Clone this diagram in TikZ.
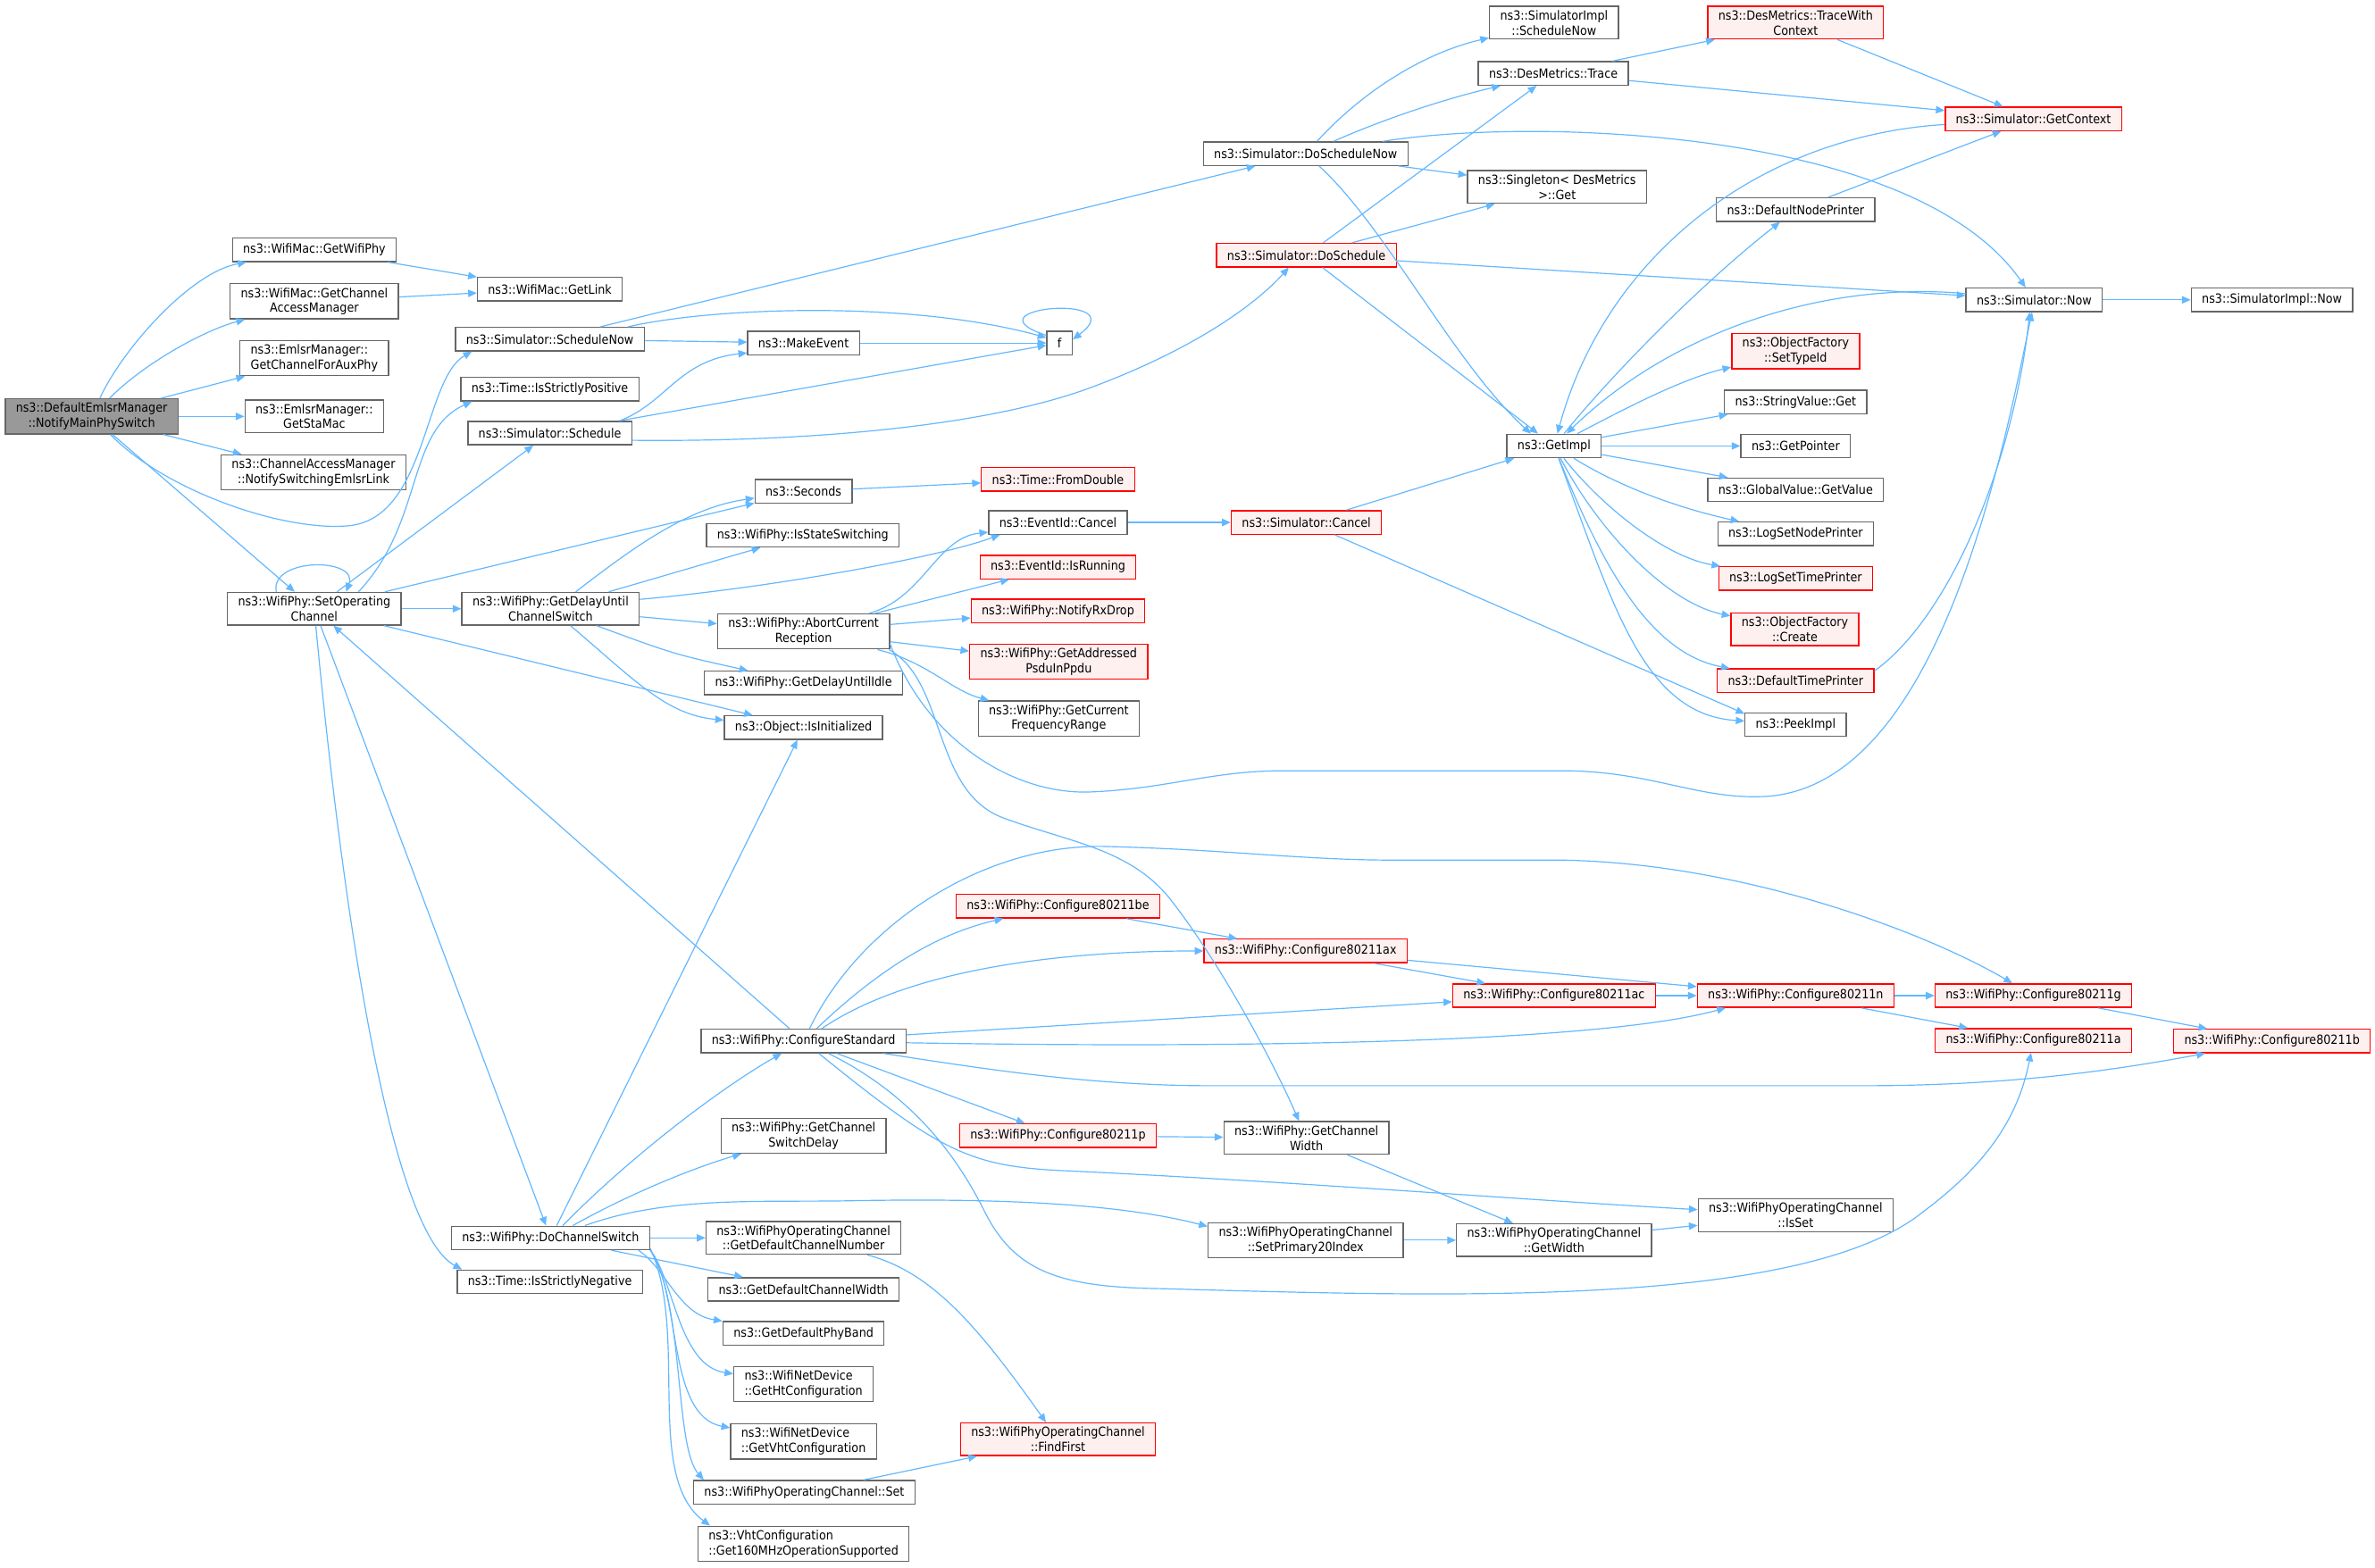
\documentclass[tikz,border=0pt]{standalone}
\usepackage{fontspec}
\setmainfont{DejaVu Sans Condensed}
\usepackage{tikz}
\usetikzlibrary{arrows.meta}

\definecolor{edgeblue}{HTML}{63B8FF}
\definecolor{boxgray}{HTML}{666666}
\definecolor{rootfill}{HTML}{999999}
\definecolor{hotfill}{HTML}{FFF0F0}

\begin{document}
\begin{tikzpicture}[
  x=0.04cm, y=-0.04cm,
  box/.style = {draw=boxgray, fill=white, line width=0.9pt, minimum height=0.62cm,
                inner xsep=0.28cm, inner ysep=3pt, align=center,
                font=\fontsize{9.5}{11.2}\selectfont},
  hot/.style = {box, draw=red, fill=hotfill},
  root/.style = {box, fill=rootfill},
  call/.style = {edgeblue, line width=0.8pt, -{Triangle[length=6.5pt,width=5.5pt]}}
]

  \fill[white] (0,0) rectangle (1568,1035);
  \useasboundingbox (0,0) rectangle (1568,1035);

  % caller
  \node[root] (notify) at (60.5,275) {ns3::DefaultEmlsrManager\\::NotifyMainPhySwitch};

  % first level
  \node[box] (wifiphy) at (207.5,165) {ns3::WifiMac::GetWifiPhy};
  \node[box] (chanmgr) at (207.5,199) {ns3::WifiMac::GetChannel\\AccessManager};
  \node[box, align=left] (auxphy) at (207.5,236.5) {ns3::EmlsrManager::\\GetChannelForAuxPhy};
  \node[box] (stamac) at (207.5,275) {ns3::EmlsrManager::\\GetStaMac};
  \node[box] (switchlink) at (207,312) {ns3::ChannelAccessManager\\::NotifySwitchingEmlsrLink};
  \node[box] (setop) at (207.5,402) {ns3::WifiPhy::SetOperating\\Channel};

  % second level
  \node[box] (getlink) at (363,191) {ns3::WifiMac::GetLink};
  \node[box] (schednow) at (363,224) {ns3::Simulator::ScheduleNow};
  \node[box] (strictpos) at (363,257) {ns3::Time::IsStrictlyPositive};
  \node[box] (sched) at (363,286) {ns3::Simulator::Schedule};
  \node[box] (delaysw) at (363.5,402) {ns3::WifiPhy::GetDelayUntil\\ChannelSwitch};
  \node[box] (dochsw) at (363.5,817.5) {ns3::WifiPhy::DoChannelSwitch};
  \node[box] (strictneg) at (363,846.5) {ns3::Time::IsStrictlyNegative};

  % third level
  \node[box] (makeevent) at (530.5,226.5) {ns3::MakeEvent};
  \node[box] (seconds) at (530.5,324.5) {ns3::Seconds};
  \node[box] (isswitch) at (530,353.5) {ns3::WifiPhy::IsStateSwitching};
  \node[box] (abort) at (530.5,417) {ns3::WifiPhy::AbortCurrent\\Reception};
  \node[box] (delayidle) at (530.5,451) {ns3::WifiPhy::GetDelayUntilIdle};
  \node[box] (isinit) at (530.5,480.5) {ns3::Object::IsInitialized};
  \node[box] (confstd) at (530.5,687.5) {ns3::WifiPhy::ConfigureStandard};
  \node[box] (swdelay) at (530.5,750) {ns3::WifiPhy::GetChannel\\SwitchDelay};
  \node[box] (defchnum) at (530.5,817.5) {ns3::WifiPhyOperatingChannel\\::GetDefaultChannelNumber};
  \node[box] (defchwidth) at (530.5,851.5) {ns3::GetDefaultChannelWidth};
  \node[box] (defband) at (530.5,880.5) {ns3::GetDefaultPhyBand};
  \node[box, align=left] (htconf) at (530.5,914) {ns3::WifiNetDevice\\::GetHtConfiguration};
  \node[box, align=left] (vhtconf) at (530.5,952) {ns3::WifiNetDevice\\::GetVhtConfiguration};
  \node[box] (opset) at (531,985.5) {ns3::WifiPhyOperatingChannel::Set};
  \node[box, align=left] (get160) at (530.5,1019.5) {ns3::VhtConfiguration\\::Get160MHzOperationSupported};

  % fourth level
  \node[box] (f) at (699.5,226.5) {f};
  \node[hot] (fromdouble) at (698.5,316.5) {ns3::Time::FromDouble};
  \node[box] (evcancel) at (698.5,345) {ns3::EventId::Cancel};
  \node[hot] (isrunning) at (698.5,374.5) {ns3::EventId::IsRunning};
  \node[hot] (rxdrop) at (698.5,403.5) {ns3::WifiPhy::NotifyRxDrop};
  \node[hot] (psdu) at (699,437) {ns3::WifiPhy::GetAddressed\\PsduInPpdu};
  \node[box] (freqrange) at (699,474.5) {ns3::WifiPhy::GetCurrent\\FrequencyRange};
  \node[hot] (cbe) at (698.5,598.5) {ns3::WifiPhy::Configure80211be};
  \node[hot] (cp) at (698.5,750) {ns3::WifiPhy::Configure80211p};
  \node[hot] (findfirst) at (698.5,950.5) {ns3::WifiPhyOperatingChannel\\::FindFirst};

  % simulator core
  \node[box] (doschednow) at (862,101.5) {ns3::Simulator::DoScheduleNow};
  \node[hot] (dosched) at (862.5,168.5) {ns3::Simulator::DoSchedule};
  \node[hot] (simcancel) at (862.5,345) {ns3::Simulator::Cancel};
  \node[hot] (cax) at (862,628) {ns3::WifiPhy::Configure80211ax};
  \node[box] (chwidth) at (862.5,751.5) {ns3::WifiPhy::GetChannel\\Width};
  \node[box] (setprim) at (862,819) {ns3::WifiPhyOperatingChannel\\::SetPrimary20Index};

  \node[box] (implschednow) at (1026,15) {ns3::SimulatorImpl\\::ScheduleNow};
  \node[box] (trace) at (1025.5,48.5) {ns3::DesMetrics::Trace};
  \node[box] (singleton) at (1028,123.5) {ns3::Singleton< DesMetrics\\>::Get};
  \node[box] (getimpl) at (1026,294.5) {ns3::GetImpl};
  \node[hot] (cac) at (1026,657.5) {ns3::WifiPhy::Configure80211ac};
  \node[box] (getwidth) at (1026,819) {ns3::WifiPhyOperatingChannel\\::GetWidth};

  \node[hot] (tracectx) at (1185.5,15) {ns3::DesMetrics::TraceWith\\Context};
  \node[box] (nodeprinter) at (1185.5,138.5) {ns3::DefaultNodePrinter};
  \node[hot] (settypeid) at (1185.5,232) {ns3::ObjectFactory\\::SetTypeId};
  \node[box] (strget) at (1185.5,265.5) {ns3::StringValue::Get};
  \node[box] (getptr) at (1185.5,294.5) {ns3::GetPointer};
  \node[box] (getvalue) at (1185.5,323.5) {ns3::GlobalValue::GetValue};
  \node[box] (lognode) at (1185.5,352.5) {ns3::LogSetNodePrinter};
  \node[hot] (logtime) at (1185.5,382) {ns3::LogSetTimePrinter};
  \node[hot] (create) at (1185,415.5) {ns3::ObjectFactory\\::Create};
  \node[hot] (timeprinter) at (1185.5,449.5) {ns3::DefaultTimePrinter};
  \node[box] (peekimpl) at (1185.5,478.5) {ns3::PeekImpl};
  \node[hot] (cn) at (1185.5,657.5) {ns3::WifiPhy::Configure80211n};
  \node[box] (isset) at (1185.5,802.5) {ns3::WifiPhyOperatingChannel\\::IsSet};

  \node[hot] (getctx) at (1342.5,78.5) {ns3::Simulator::GetContext};
  \node[box] (simnow) at (1343,198) {ns3::Simulator::Now};
  \node[hot] (cg) at (1342.5,657.5) {ns3::WifiPhy::Configure80211g};
  \node[hot] (ca) at (1342.5,687) {ns3::WifiPhy::Configure80211a};
  \node[box] (implnow) at (1500,198) {ns3::SimulatorImpl::Now};
  \node[hot] (cb) at (1500,687.5) {ns3::WifiPhy::Configure80211b};

  % calls of the caller
  \draw[call] (notify) .. controls (80,232) and (125,180) .. (wifiphy);
  \draw[call] (notify) .. controls (95,240) and (135,218) .. (chanmgr);
  \draw[call] (notify) -- (auxphy);
  \draw[call] (notify) -- (stamac);
  \draw[call] (notify) -- (switchlink);
  \draw[call] (notify.-44) .. controls (110,325) and (190,352) .. (232,347)
                           .. controls (282,340) and (280,250) .. (schednow.189);
  \draw[call] (notify) -- (setop);
  \draw[call] (wifiphy) -- (getlink);
  \draw[call] (chanmgr) -- (getlink);

  % SetOperatingChannel
  \draw[call] (setop.156) .. controls (178,368) and (237,368) .. (setop.28);
  \draw[call] (setop) -- (sched);
  \draw[call] (setop.21) .. controls (280,345) and (268,285) .. (strictpos.189);
  \draw[call] (setop) -- (seconds);
  \draw[call] (setop) -- (delaysw);
  \draw[call] (setop) -- (isinit);
  \draw[call] (setop) -- (dochsw);
  \draw[call] (setop.-85) .. controls (230,640) and (262,815) .. (strictneg.172);
  \draw[call] (confstd) -- (setop);

  % scheduling
  \draw[call] (schednow) -- (doschednow);
  \draw[call] (schednow.9) .. controls (470,203) and (600,198) .. (f.158);
  \draw[call] (schednow) -- (makeevent);
  \draw[call] (sched.10) .. controls (440,266) and (448,238) .. (makeevent.190);
  \draw[call] (sched) -- (f);
  \draw[call] (sched.-5) .. controls (530,292) and (650,282) .. (720,256)
                         .. controls (790,230) and (830,200) .. (dosched.-145);
  \draw[call] (makeevent) -- (f);
  \draw[call] (f.150) .. controls (635,203) and (750,193) .. (f.15);

  % GetDelayUntilChannelSwitch
  \draw[call] (delaysw.34) .. controls (420,360) and (455,335) .. (seconds);
  \draw[call] (delaysw) -- (isswitch);
  \draw[call] (delaysw.6) .. controls (510,388) and (620,368) .. (evcancel.192);
  \draw[call] (delaysw) -- (abort);
  \draw[call] (delaysw) .. controls (445,432) .. (delayidle);
  \draw[call] (delaysw) .. controls (420,450) and (440,472) .. (isinit);
  \draw[call] (seconds) -- (fromdouble);

  % AbortCurrentReception
  \draw[call] (abort) .. controls (610,395) and (618,355) .. (evcancel.188);
  \draw[call] (abort) -- (isrunning);
  \draw[call] (abort) -- (rxdrop);
  \draw[call] (abort) -- (psdu);
  \draw[call] (abort) .. controls (612,437) and (628,456) .. (freqrange);
  \draw[call] (abort.-12) .. controls (625,450) and (615,522) .. (662,540)
                          .. controls (705,556) and (745,560) .. (772,593)
                          .. controls (805,635) and (840,700) .. (chwidth);
  \draw[call] (abort.-8) .. controls (612,490) and (670,525) .. (720,523)
                         .. controls (770,521) and (800,509) .. (847,509) -- (1031,509)
                         .. controls (1090,509) and (1120,528) .. (1165,526)
                         .. controls (1280,520) and (1322,300) .. (simnow.-100);
  \draw[call] (evcancel) -- (simcancel);

  % DoScheduleNow and DoSchedule
  \draw[call] (doschednow) .. controls (900,60) and (940,35) .. (implschednow);
  \draw[call] (doschednow) .. controls (915,78) and (955,65) .. (trace);
  \draw[call] (doschednow) .. controls (940,89) and (980,86) .. (1030,87)
                           .. controls (1150,90) and (1285,115) .. (simnow);
  \draw[call] (doschednow) -- (singleton);
  \draw[call] (doschednow) .. controls (915,150) and (960,240) .. (getimpl.152);
  \draw[call] (dosched) -- (trace);
  \draw[call] (dosched) -- (singleton);
  \draw[call] (dosched) -- (simnow);
  \draw[call] (dosched) -- (getimpl);

  \draw[call] (trace) -- (tracectx);
  \draw[call] (trace) -- (getctx);
  \draw[call] (tracectx) -- (getctx);
  \draw[call] (nodeprinter) -- (getctx);
  \draw[call] (simnow) -- (implnow);
  \draw[call] (timeprinter.7) .. controls (1290,405) and (1330,300) .. (simnow.-110);

  % GetImpl
  \draw[call] (getctx) .. controls (1160,90) and (1060,170) .. (getimpl);
  \draw[call] (simnow) .. controls (1200,185) and (1100,222) .. (getimpl);
  \draw[call] (getimpl) .. controls (1062,250) and (1120,190) .. (nodeprinter);
  \draw[call] (getimpl) .. controls (1080,266) and (1112,250) .. (settypeid);
  \draw[call] (getimpl) -- (strget);
  \draw[call] (getimpl) -- (getptr);
  \draw[call] (getimpl) -- (getvalue);
  \draw[call] (getimpl) .. controls (1070,322) and (1110,336) .. (lognode);
  \draw[call] (getimpl) .. controls (1058,335) and (1100,368) .. (logtime);
  \draw[call] (getimpl) .. controls (1055,350) and (1100,398) .. (create);
  \draw[call] (getimpl) .. controls (1060,380) and (1092,432) .. (timeprinter);
  \draw[call] (getimpl) .. controls (1065,400) and (1085,472) .. (peekimpl.176);
  \draw[call] (simcancel) -- (getimpl);
  \draw[call] (simcancel) -- (peekimpl.168);

  % DoChannelSwitch
  \draw[call] (dochsw) -- (isinit);
  \draw[call] (dochsw) .. controls (420,760) and (480,716) .. (confstd);
  \draw[call] (dochsw) .. controls (420,786) and (462,770) .. (swdelay);
  \draw[call] (dochsw) -- (defchnum);
  \draw[call] (dochsw) .. controls (440,790) and (500,794) .. (560,793)
                       .. controls (660,791) and (740,795) .. (setprim.172);
  \draw[call] (dochsw) -- (defchwidth);
  \draw[call] (dochsw.-8.5) .. controls (440,838) and (448,868) .. (defband);
  \draw[call] (dochsw.-7.9) .. controls (445,845) and (448,902) .. (htconf);
  \draw[call] (dochsw.-7.4) .. controls (450,855) and (440,935) .. (vhtconf);
  \draw[call] (dochsw.-7.1) .. controls (452,860) and (445,955) .. (opset.173);
  \draw[call] (dochsw.-6.7) .. controls (455,880) and (425,975) .. (get160.169);
  \draw[call] (defchnum) .. controls (615,840) and (645,875) .. (findfirst);
  \draw[call] (opset) -- (findfirst);

  % ConfigureStandard
  \draw[call] (confstd) .. controls (572,648) and (612,618) .. (cbe);
  \draw[call] (confstd) .. controls (600,640) and (700,628) .. (cax);
  \draw[call] (confstd) .. controls (568,610) and (650,557) .. (730,559)
                        .. controls (810,561) and (860,568) .. (920,568) -- (1031,568)
                        .. controls (1150,570) and (1270,615) .. (cg);
  \draw[call] (confstd) -- (cac);
  \draw[call] (confstd) .. controls (800,692) and (1050,690) .. (cn.190);
  \draw[call] (confstd) .. controls (650,706) and (720,717) .. (800,717) -- (1230,717)
                        .. controls (1330,717) and (1400,706) .. (cb);
  \draw[call] (confstd) .. controls (600,722) and (630,760) .. (650,800)
                        .. controls (670,840) and (700,850) .. (766,851)
                        .. controls (950,856) and (1190,865) .. (1270,800)
                        .. controls (1310,770) and (1332,740) .. (ca);
  \draw[call] (confstd) .. controls (620,760) and (640,770) .. (700,773)
                        .. controls (850,780) and (1000,792) .. (isset);
  \draw[call] (confstd) -- (cp);

  % 802.11 chain
  \draw[call] (cbe) -- (cax);
  \draw[call] (cax) -- (cac);
  \draw[call] (cax) -- (cn);
  \draw[call] (cac) -- (cn);
  \draw[call] (cn) -- (cg);
  \draw[call] (cn) -- (ca);
  \draw[call] (cg) -- (cb);
  \draw[call] (cp) -- (chwidth);
  \draw[call] (chwidth) -- (getwidth);
  \draw[call] (setprim) -- (getwidth);
  \draw[call] (getwidth) -- (isset);

\end{tikzpicture}
\end{document}
